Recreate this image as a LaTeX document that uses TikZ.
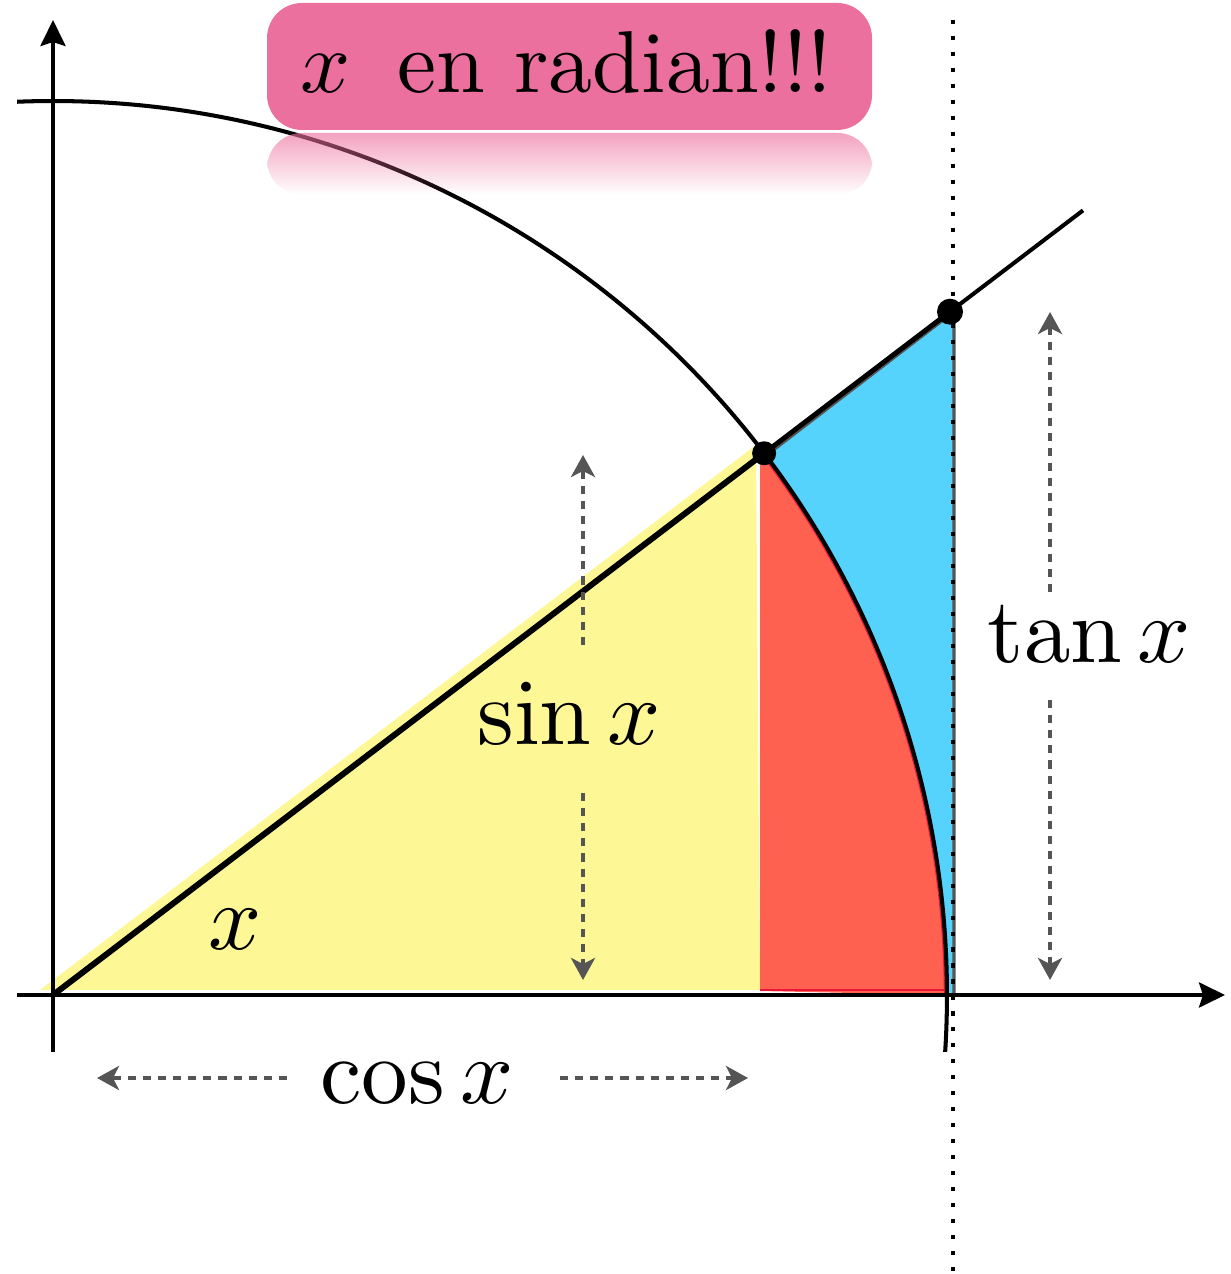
\RequirePackage{fix-cm}
\documentclass[tikz,border=0pt]{standalone}
\usepackage{graphicx}
\usetikzlibrary{arrows.meta,fadings}
\definecolor{boxpink}{HTML}{EC709D}
\definecolor{yel}{HTML}{FDF796}
\definecolor{redf}{HTML}{FF6150}
\definecolor{crim}{HTML}{E8173A}
\definecolor{bluef}{HTML}{55D3FD}
\definecolor{arrgray}{HTML}{555555}
\tikzfading[name=reflfade, top color=transparent!35, bottom color=transparent!100]
\newcommand{\biglbl}[1]{\scalebox{2.65}{#1}}
\begin{document}
\begin{tikzpicture}[x=1cm,y=1cm,
  axis/.style={line width=1.15pt, -{Stealth[length=0.26cm,width=0.25cm,inset=0.04cm]}},
  dimarrow/.style={arrgray, line width=1.35pt, dash pattern=on 2.3pt off 2pt, -{Stealth[length=0.22cm,width=0.24cm,inset=0.06cm]}},
  lbl/.style={inner sep=0pt, anchor=base},
  dotpt/.style={circle, fill=black, inner sep=0pt, minimum size=0.24cm},
  titlebox/.style={fill=boxpink, rounded corners=0.35cm, minimum width=6.05cm, minimum height=1.27cm, inner sep=0pt, text depth=0.11cm}
]
\useasboundingbox (-0.53,-2.79) rectangle (11.77,9.95);
\def\R{8.94}
\def\ang{37.3}
\coordinate (O) at (0,0);
\coordinate (P) at (\ang:\R);
\coordinate (T) at (8.97,6.833);
\coordinate (Tedge) at (9.01,6.864);
\coordinate (A) at (\R,0);
\coordinate (E) at (10.30,7.846);
\coordinate (xaxL) at (-0.36,0);
\coordinate (xaxR) at (11.72,0);
\coordinate (yaxB) at (0,-0.57);
\coordinate (yaxT) at (0,9.75);
\coordinate (vTop) at (9.0,9.75);
\coordinate (vBot) at (9.0,-2.79);
\coordinate (arcS) at (92.3:\R);

% fills
\fill[yel] (-0.13,0.05) -- (7.03,5.50) -- (7.07,0.05) -- cycle;
\fill[redf] (7.07,0.04) -- (7.07,5.35) -- (P) arc[start angle=\ang, end angle=0, radius=\R] -- cycle;
\draw[crim, line width=0.7pt] (7.07,0.05) -- (8.93,0.05);
\draw[crim, line width=0.7pt] (\ang:8.92) arc[start angle=\ang, end angle=0, radius=8.92];
\fill[bluef] (P) -- (Tedge) -- (9.01,0) -- (A) arc[start angle=0, end angle=\ang, radius=\R] -- cycle;
\draw[arrgray, line width=0.9pt] ([shift={(0.01,-0.03)}]P) -- ([shift={(0,-0.03)}]Tedge) -- (9.01,0.02);

% lines
\draw[line width=1.15pt] (arcS) arc[start angle=92.3, end angle=-3.65, radius=\R];
\draw[line width=1.7pt] (O) -- (P);
\draw[line width=1.4pt] (P) -- (T);
\draw[line width=1.15pt] (T) -- (E);
\draw[axis] (xaxL) -- (xaxR);
\draw[axis] (yaxB) -- (yaxT);
\draw[line width=1.15pt, dash pattern=on 1.15pt off 3.4pt] (vTop) -- (vBot);

\node[dotpt] (Pdot) at (P) {};
\node[dotpt, minimum size=0.26cm] (Tdot) at (T) {};

% labels
\node[lbl] (xlbl) at (1.82,0.45) {\biglbl{$x$}};
\node[lbl] (sinlbl) at (5.16,2.50) {\biglbl{$\sin x$}};
\node[lbl] (tanlbl) at (10.36,3.32) {\biglbl{$\tan x$}};
\node[lbl] (coslbl) at (3.64,-1.08) {\biglbl{$\cos x$}};

% dimension arrows
\coordinate (sinTop) at (5.30,5.40);
\coordinate (sinA) at (5.30,3.50);
\coordinate (sinB) at (5.30,2.02);
\coordinate (sinBot) at (5.30,0.15);
\draw[dimarrow] (sinA) -- (sinTop);
\draw[dimarrow] (sinB) -- (sinBot);
\coordinate (tanTop) at (9.97,6.83);
\coordinate (tanA) at (9.97,4.03);
\coordinate (tanB) at (9.97,2.95);
\coordinate (tanBot) at (9.97,0.15);
\draw[dimarrow] (tanA) -- (tanTop);
\draw[dimarrow] (tanB) -- (tanBot);
\coordinate (cosL) at (0.44,-0.83);
\coordinate (cosA) at (2.34,-0.83);
\coordinate (cosB) at (5.07,-0.83);
\coordinate (cosR) at (6.95,-0.83);
\draw[dimarrow] (cosA) -- (cosL);
\draw[dimarrow] (cosB) -- (cosR);

% title box and reflection
\node[titlebox] (title) at (5.165,9.285) {\scalebox{2.5}{$x$\hspace{0.53em}en radian!!!\hspace{0.07em}}};
\fill[boxpink, path fading=reflfade, rounded corners=0.35cm] (2.14,8.0) -- (2.14,8.62) -- (8.19,8.62) -- (8.19,8.0) -- cycle;
\end{tikzpicture}
\end{document}
